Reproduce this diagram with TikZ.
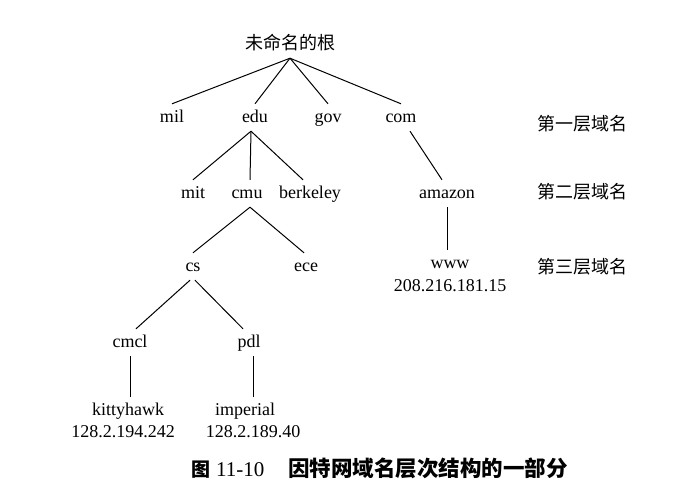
\documentclass[tikz,border=0pt]{standalone}
\usepackage{fontspec}
\setmainfont{Liberation Serif}
\newfontfamily\cjk{Noto Sans CJK SC}
\usetikzlibrary{calc}
\begin{document}
\begin{tikzpicture}[x=1pt,y=-1pt,
  lbl/.style={font=\fontsize{18}{20}\selectfont, inner xsep=0pt, inner ysep=5pt,
              text height=13pt, text depth=4pt, anchor=base},
  cjklbl/.style={lbl, font=\fontsize{18}{20}\selectfont\cjk},
  edge/.style={draw, line width=1pt}]
\useasboundingbox (0,0) rectangle (673,498);

% root and top-level domains
\node[cjklbl] (root) at (290,49) {未命名的根};
\node[lbl] (mil) at (172,122) {mil};
\node[lbl] (edu) at (255,122) {edu};
\node[lbl] (gov) at (328,122) {gov};
\node[lbl] (com) at (401,122) {com};

% second-level domains
\node[lbl] (mit) at (193,198) {mit};
\node[lbl] (cmu) at (247,198) {cmu};
\node[lbl] (berkeley) at (310,198) {berkeley};
\node[lbl] (amazon) at (447,198) {amazon};

% third level
\node[lbl] (cs) at (193,271) {cs};
\node[lbl] (ece) at (306,271) {ece};
\node[lbl] (www) at (450,268) {www};
\node[lbl] (wwwip) at (450,291) {208.216.181.15};

% fourth level and hosts
\node[lbl] (cmcl) at (130,347) {cmcl};
\node[lbl] (pdl) at (249,347) {pdl};
\node[lbl] (kittyhawk) at (128,415) {kittyhawk};
\node[lbl] (kittyip) at (123,437) {128.2.194.242};
\node[lbl] (imperial) at (245,415) {imperial};
\node[lbl] (imperialip) at (253,437) {128.2.189.40};

% level captions on the right
\node[cjklbl] (lv1) at (582,130) {第一层域名};
\node[cjklbl] (lv2) at (582,198) {第二层域名};
\node[cjklbl] (lv3) at (582,273) {第三层域名};

% figure caption
\node[anchor=base west, inner sep=0pt, font=\fontsize{21}{23}\selectfont] (caption) at (191,476)
  {{\cjk\bfseries\fontsize{19}{21}\selectfont 图}\hspace{6pt}11-10\hspace{24pt}{\cjk\bfseries\fontsize{21.5}{23}\selectfont 因特网域名层次结构的一部分}};

% connectors
\draw[edge] (root.south) -- (mil.north);
\draw[edge] (root.south) -- (edu.north);
\draw[edge] (root.south) -- (gov.north);
\draw[edge] (root.south) -- (com.north);

\draw[edge] ($(edu.south)+(-4,0)$) -- (mit.north);
\draw[edge] ($(edu.south)+(-4,0)$) -- ($(cmu.north)+(3,0)$);
\draw[edge] ($(edu.south)+(-4,0)$) -- ($(berkeley.north)+(-7,0)$);
\draw[edge] ($(com.south)+(9,0)$) -- ($(amazon.north)+(-5,0)$);

\draw[edge] ($(cmu.south)+(3,0)$) -- (cs.north);
\draw[edge] ($(cmu.south)+(3,0)$) -- ($(ece.north)+(-2,0)$);
\draw[edge] (amazon.south) -- (amazon.south |- www.north);

\draw[edge] ($(cs.south)+(-3,0)$) -- ($(cmcl.north)+(6,0)$);
\draw[edge] ($(cs.south)+(2,0)$) -- ($(pdl.north)+(-6,0)$);

\draw[edge] (cmcl.south) -- (cmcl.south |- kittyhawk.north);
\draw[edge] ($(pdl.south)+(4,0)$) -- ($(pdl.south |- imperial.north)+(4,0)$);
\end{tikzpicture}
\end{document}
